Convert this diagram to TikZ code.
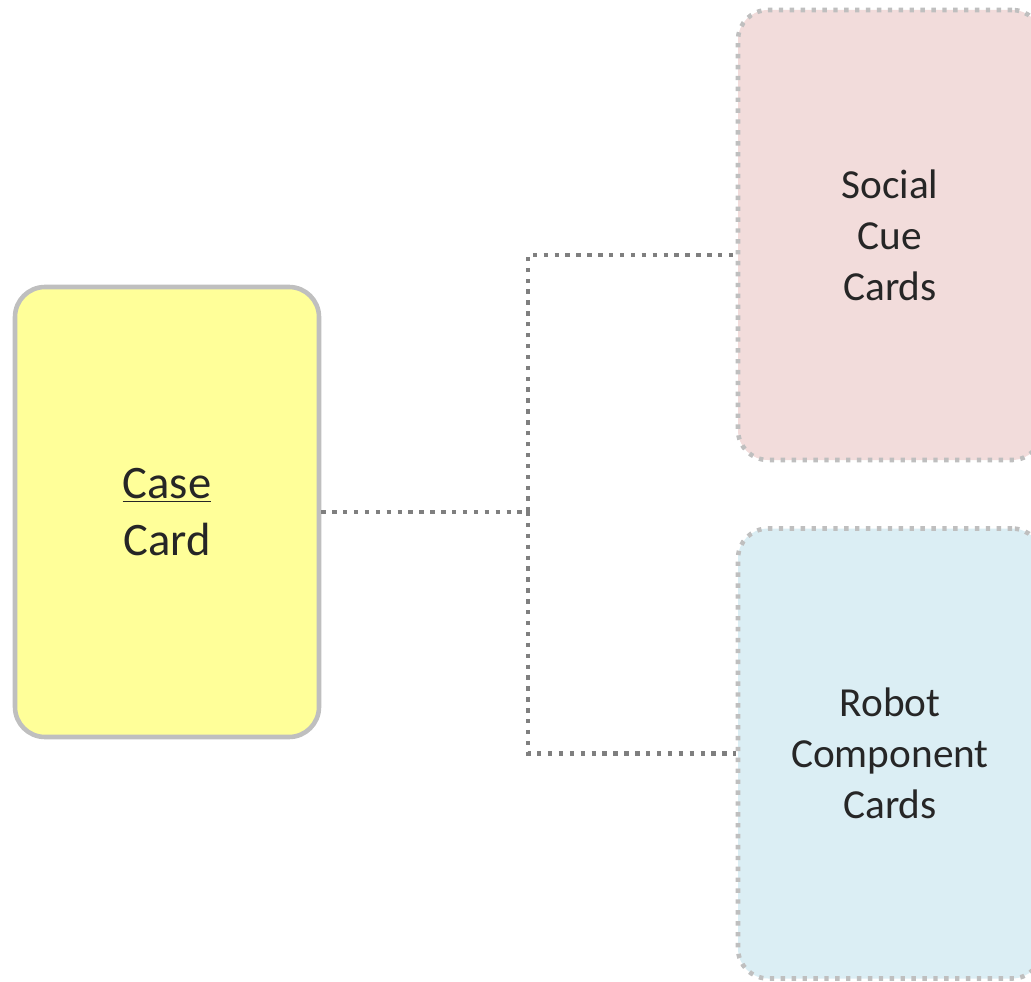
\documentclass[tikz,border=0pt]{standalone}
\usepackage{fontspec}
\setmainfont{Carlito}
\usepackage{tikz}
\definecolor{textgray}{HTML}{262626}
\definecolor{bordergray}{HTML}{BFBFBF}
\definecolor{linkgray}{HTML}{7F7F7F}
\definecolor{caseyellow}{HTML}{FFFF99}
\definecolor{cuepink}{HTML}{F2DCDB}
\definecolor{robotblue}{HTML}{DBEEF4}
\tikzset{
  card/.style={rectangle, rounded corners=0.6cm, minimum width=6.08cm,
    minimum height=9cm, inner sep=0pt, align=center, text=textgray,
    line width=2.6pt},
  dotcard/.style={card, draw=bordergray, dash pattern=on 2.5pt off 3.7pt,
    font=\fontsize{23.5}{29}\selectfont},
  link/.style={draw=linkgray, line width=2.6pt, dash pattern=on 2.5pt off 3.7pt}
}

\begin{document}
\begin{tikzpicture}
  \useasboundingbox (0,0) rectangle (20.62,-19.64);
  \def\xs{10.56}   % split column
  % cards
  \node[card, draw=bordergray, fill=caseyellow,
        font=\fontsize{26.5}{32.5}\selectfont] (case) at (3.34,-10.24) {\underline{Case}\\Card};
  \node[dotcard, fill=cuepink] (cue) at (17.8,-4.7) {Social\\Cue\\Cards};
  \node[dotcard, fill=robotblue] (robot) at (17.8,-15.07) {Robot\\Component\\Cards};
  % connectors
  \coordinate (split) at (\xs,-10.24);
  \coordinate (cuein) at ([yshift=-0.4cm]cue.west);
  \draw[link] (case.east) -- (split) |- (cuein);
  \draw[link] (split) |- (robot.west);
\end{tikzpicture}
\end{document}
